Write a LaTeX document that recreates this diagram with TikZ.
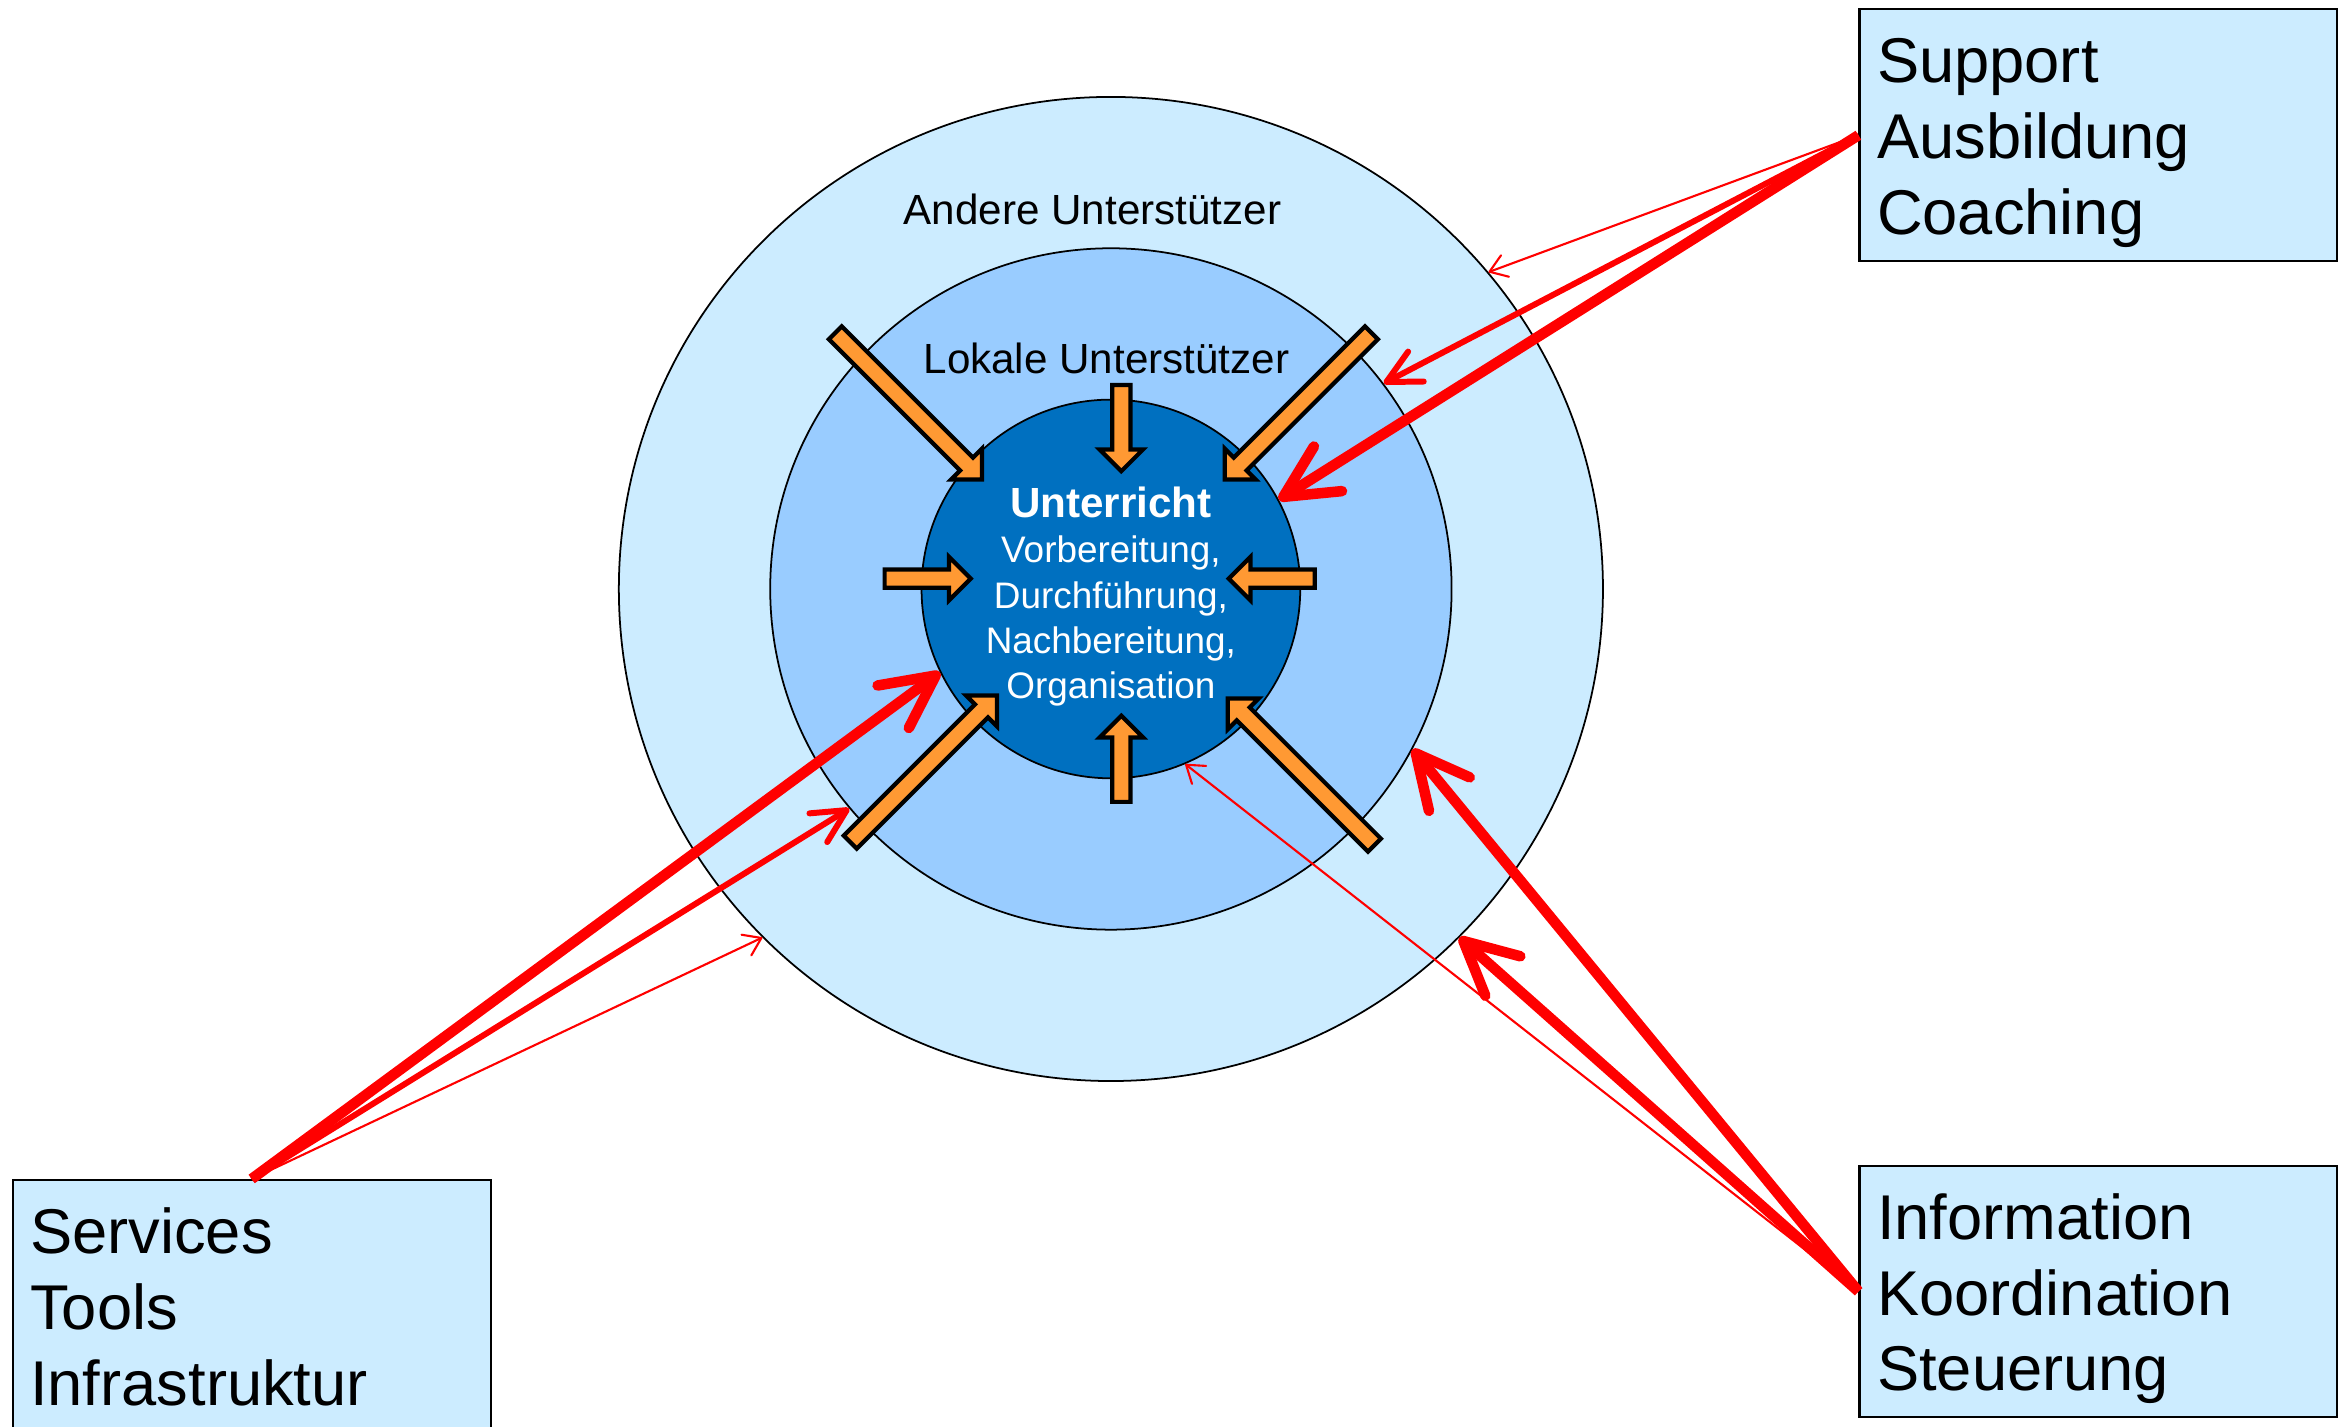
\documentclass[tikz,border=0pt]{standalone}
\usepackage{fontspec}
\setmainfont{Liberation Sans}
\usetikzlibrary{positioning,arrows.meta,shapes.arrows}
\definecolor{colorouter}  {RGB}{204,236,255}
\definecolor{colormiddle} {RGB}{153,204,255}
\definecolor{colorinner}  {RGB}{0  ,112,192}
\definecolor{colorblock}  {RGB}{255,153,51 }
\definecolor{colorlink}   {RGB}{255,0  ,0  }

\begin{document}
\begin{tikzpicture}[
    font={\fontsize{12}{14.4}\selectfont},
    ring/.style={circle,draw=black,line width=0.5pt,inner sep=0pt},
    ringtext/.style={text=black,inner sep=0pt,anchor=base},
    infobox/.style={draw=black,line width=0.6pt,fill=colorouter,anchor=north west,
        align=left,text width=126pt,inner xsep=5pt,inner ysep=5pt,
        text height=15.9pt,text depth=45.7pt,font={\fontsize{18}{21.6}\selectfont}},
    block/.style={single arrow,draw=black,fill=colorblock,line width=1.2pt,
        inner sep=2pt,single arrow head extend=3.6pt,anchor=tip},
    link/.style={draw=colorlink},
    thinlink/.style={link,line width=0.6pt,-{Straight Barb[length=4.7pt,width=6.5pt,round]}},
    midlink/.style={link,line width=1.7pt,-{Straight Barb[length=9.5pt,width=9.6pt,round]}},
    thicklink/.style={link,line width=3pt,-{Straight Barb[length=15pt,width=15pt,round]}},
]
    \useasboundingbox (0,0) rectangle (23.38,14.27);

    % Rings
    \node[ring,fill=colorouter,minimum size=9.841cm]  (outer)  at (11.109,8.380) {};
    \node[ring,fill=colormiddle,minimum size=6.814cm] (middle) at (outer.center) {};
    \node[ring,fill=colorinner,minimum size=3.787cm]  (inner)  at (outer.center) {};
    \node[ringtext] (andere) at (10.925,12.020) {Andere Unterstützer};
    \node[ringtext] (lokale) at (11.064,10.530) {Lokale Unterstützer};

    % Block arrows
    \foreach \x/\y/\a/\l [count=\i] in {11.213/9.528/-90/24.5pt, 11.213/7.142/90/24.5pt,
        9.737/8.484/0/24.5pt, 12.257/8.484/180/24.5pt,
        9.841/9.454/-45/59pt, 12.227/9.454/-135/59pt,
        9.990/7.336/45/59pt, 12.257/7.306/135/59pt}
        \node[block,rotate=\a,minimum height=\l] (block\i) at (\x,\y) {};

    \node[text=white,align=center,anchor=north,inner sep=0pt,
        font={\fontsize{10.5}{12.9}\selectfont}] (unterricht) at (11.109,9.409)
        {{\fontsize{12}{13.2}\selectfont\bfseries Unterricht}\\Vorbereitung,\\Durchführung,\\Nachbereitung,\\Organisation};

    % Boxes
    \node[infobox] (sup)  at (18.584,14.186) {Support\\Ausbildung\\Coaching};
    \node[infobox] (info) at (18.584,2.624)  {Information\\Koordination\\Steuerung};
    \node[infobox] (serv) at (0.116,2.480)   {Services\\Tools\\Infrastruktur};

    % Links
    \draw[thinlink]  (sup.west)   -- (outer.40);
    \draw[midlink]   (sup.west)   -- (middle.37);
    \draw[thicklink] (sup.west)   -- (inner.28);
    \draw[thicklink] (serv.north) -- (inner.206);
    \draw[midlink]   (serv.north) -- (middle.220);
    \draw[thinlink]  (serv.north) -- (outer.225);
    \draw[thicklink] (info.west)  -- (middle.332);
    \draw[thicklink] (info.west)  -- (outer.315);
    \draw[thinlink]  (info.west)  -- (inner.293);

\end{tikzpicture}
\end{document}
